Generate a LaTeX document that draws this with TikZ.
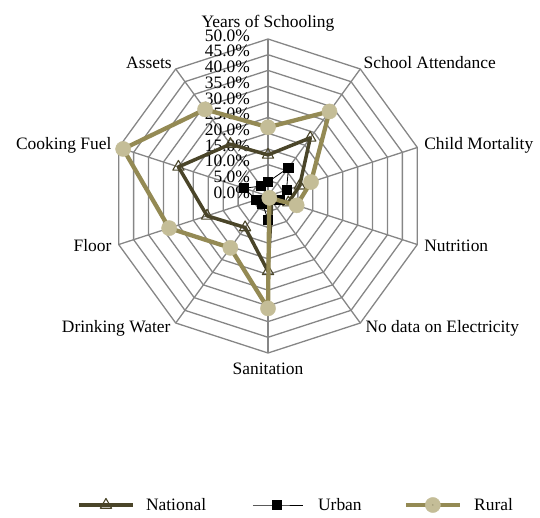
\documentclass[tikz,border=0pt]{standalone}
\usepackage{fontspec}
\setmainfont{Liberation Serif}
\usepackage{tikz}
\usetikzlibrary{plotmarks}
\definecolor{gridgray}{HTML}{868686}
\definecolor{natcol}{HTML}{4A4529}
\definecolor{rurline}{HTML}{948A54}
\definecolor{rurfill}{HTML}{C4BD97}

\begin{document}
\begin{tikzpicture}[x=3.14bp, y=3.14bp,
  every node/.style={font=\fontsize{17.5}{17.5}\selectfont, inner sep=0pt},
  grid/.style={gridgray, line width=1.3bp},
  national/.style={natcol, line width=3.5bp, line join=round, mark=triangle, mark size=6.5bp, mark options={fill=white, line width=1.1bp}},
  urban/.style={black, line width=0.8bp, mark=square*, mark size=4.6bp},
  rural/.style={rurline, line width=4.3bp, line join=round, mark=*, mark size=7.6bp, mark options={fill=rurfill, draw=rurfill, line width=0.4bp}}]
\useasboundingbox (-85.35,-102.23) rectangle (86.62,62.42);
% web
\foreach \r in {5,10,...,50}
  \draw[grid] (90:\r) \foreach \a in {126,162,...,414} {-- (\a:\r)} -- cycle;
\foreach \a in {90,54,...,-234}
  \draw[grid] (0,0) -- (\a:50);
\foreach \v in {0,5,...,50}
  \node[anchor=mid east] (ring\v) at (-5.7,\v) {\v.0\%};
% axis names
\node[anchor=base] (yrs) at (0,53.8) {Years of Schooling};
\node[anchor=base west] (att) at (30.4,40.7) {School Attendance};
\node[anchor=base west] (cmort) at (49.7,14.7) {Child Mortality};
\node[anchor=base west] (nutr) at (49.7,-17.6) {Nutrition};
\node[anchor=base west] (elec) at (31.0,-43.5) {No data on Electricity};
\node[anchor=base] (sani) at (0,-57) {Sanitation};
\node[anchor=base east] (water) at (-31.0,-43.5) {Drinking Water};
\node[anchor=base east] (floor) at (-49.8,-17.6) {Floor};
\node[anchor=base east] (fuel) at (-49.8,14.7) {Cooking Fuel};
\node[anchor=base east] (assets) at (-30.6,40.7) {Assets};
% series
\draw[national] plot coordinates {(90:13.1) (54:22.9) (18:10.6) (-18:6.8) (-54:2) (-90:24) (-126:12.4) (-162:20.4) (162:30) (126:20.4)} -- cycle;
\draw[urban] plot coordinates {(90:4.5) (54:11.1) (18:6.2) (-18:3.8) (-54:1) (-90:7.5) (-126:3) (-162:3.9) (162:8) (126:3.9)} -- cycle;
\draw[rural] plot coordinates {(90:21.9) (54:33.3) (18:14.4) (-18:9.6) (-54:0.7) (-90:35.8) (-126:20.4) (-162:33.1) (162:48.5) (126:34.1)} -- cycle;
% legend
\coordinate (natL) at (-60.2,-98.4);
\coordinate (natM) at (-51.6,-98.4);
\coordinate (natR) at (-43.0,-98.4);
\coordinate (urbL) at (-4.8,-98.4);
\coordinate (urbM) at (2.9,-98.4);
\coordinate (urbR) at (11.1,-98.4);
\coordinate (rurL) at (44.0,-98.4);
\coordinate (rurM) at (52.5,-98.4);
\coordinate (rurR) at (61.1,-98.4);
\draw[national, mark indices={2}] plot coordinates {(natL) (natM) (natR)};
\draw[urban, mark indices={2}] plot coordinates {(urbL) (urbM) (urbR)};
\draw[rural, mark indices={2}] plot coordinates {(rurL) (rurM) (rurR)};
\fill[natcol] (rurM) circle (0.5bp);
\node[anchor=base west] (natname) at (-38.9,-100) {National};
\node[anchor=base west] (urbname) at (15.9,-100) {Urban};
\node[anchor=base west] (rurname) at (65.6,-100) {Rural};
\end{tikzpicture}
\end{document}
